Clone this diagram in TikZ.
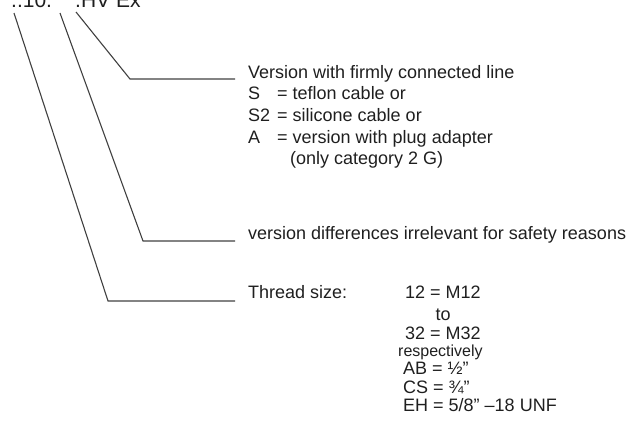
\documentclass[tikz,border=0pt]{standalone}
\usepackage{fontspec}
\setmainfont{Liberation Sans}
\begin{document}
\begin{tikzpicture}[x=1pt,y=-1pt,
  txt/.style={anchor=base west,inner sep=0pt,text=black!88,font=\fontsize{18}{20}\selectfont},
  txtc/.style={txt,anchor=base},
  small/.style={txt,font=\fontsize{16}{18}\selectfont},
  top/.style={txt,font=\fontsize{21}{23}\selectfont},
  leader/.style={draw=black!75,line width=1.1pt,line join=miter}]
\useasboundingbox (0,0) rectangle (631,426);
\clip (0,0) rectangle (631,426);
% top designation
\node[top] (t1) at (11,7) {..10.};
\node[top] (t2) at (75,7) {.HV Ex};
% leader start, corner and end points
\coordinate (s1) at (14,13);
\coordinate (s2) at (60,13);
\coordinate (s3) at (76,12);
\coordinate (c1) at (108,301);
\coordinate (c2) at (143,241);
\coordinate (c3) at (130,79);
\coordinate (e1) at (235,301);
\coordinate (e2) at (235,241);
\coordinate (e3) at (235,79);
\draw[leader] (s3) -- (c3) -- (e3);
\draw[leader] (s2) -- (c2) -- (e2);
\draw[leader] (s1) -- (c1) -- (e1);
% version block
\node[txt] (v0) at (248,78) {Version with firmly connected line};
\node[txt] (v1a) at (248,99) {S};
\node[txt] (v1b) at (277,99) {= teflon cable or};
\node[txt] (v2a) at (248,121) {S2};
\node[txt] (v2b) at (277,121) {= silicone cable or};
\node[txt] (v3a) at (248,143) {A};
\node[txt] (v3b) at (277,143) {= version with plug adapter};
\node[txt] (v4) at (290,164) {(only category 2 G)};
% differences
\node[txt] (d0) at (248,239) {version differences irrelevant for safety reasons};
% thread size
\node[txt] (th) at (248,298) {Thread size:};
\node[txt] (r1) at (405,298) {12 = M12};
\node[txtc] (r2) at (443,320) {to};
\node[txt] (r3) at (405,339) {32 = M32};
\node[small] (r4) at (398,356) {respectively};
\node[txt] (r5) at (403,374) {AB = ½"};
\node[txt] (r6) at (403,393) {CS = ¾"};
\node[txt] (r7) at (403,411) {EH = 5/8" –18 UNF};
\end{tikzpicture}
\end{document}
